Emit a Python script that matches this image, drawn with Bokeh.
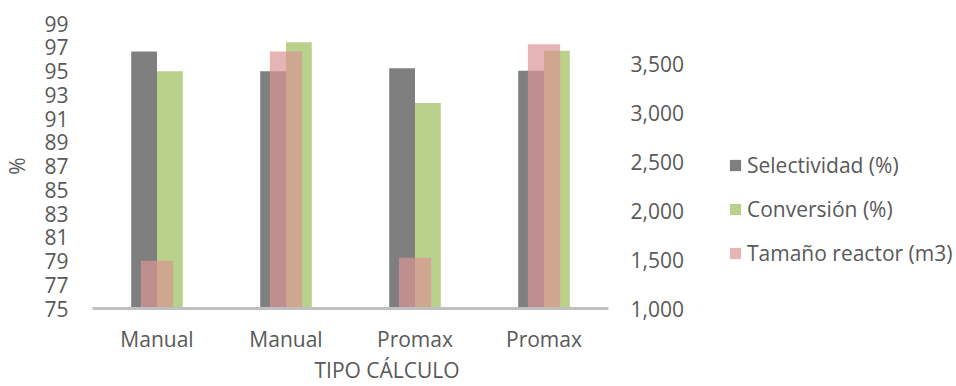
from bokeh.plotting import figure
from bokeh.layouts import row
from bokeh.models import (Range1d, LinearAxis, FixedTicker, NumeralTickFormatter,
                          Legend, LegendItem, Title, ColumnDataSource)
from bokeh.embed import file_html
from bokeh.resources import INLINE

categories = ["Manual", "Manual", "Promax", "Promax"]
selectividad = [96.65, 94.97, 95.24, 95.02]
conversion = [94.97, 97.43, 92.30, 96.71]
tamano_reactor = [1490, 3630, 1519, 3705]
left_ticks = [75, 77, 79, 81, 83, 85, 87, 89, 91, 93, 95, 97, 99]
right_ticks = [1000, 1500, 2000, 2500, 3000, 3500]
series_names = ["Selectividad (%)", "Conversión (%)", "Tamaño reactor (m3)"]

FONT = "Open Sans"
TXT = "#595959"
FS = "21px"
C_SEL, C_CONV, C_TAM = "#7F7F7F", "#B9D18B", "#D99694"
TAM_ALPHA = 0.7

xpos = list(range(1, len(categories) + 1))
src = ColumnDataSource(dict(
    x=xpos,
    xs=[v - 0.1 for v in xpos],
    xc=[v + 0.1 for v in xpos],
    sel=selectividad, conv=conversion, tam=tamano_reactor,
))

p = figure(width=700, height=386, output_backend="svg", toolbar_location=None,
           x_range=Range1d(0.5, 4.5), y_range=Range1d(75, 99),
           min_border_left=89, min_border_right=92, min_border_top=23,
           min_border_bottom=78)
p.extra_y_ranges = {"right": Range1d(1000, 3917)}
p.outline_line_color = None
p.xgrid.visible = False
p.ygrid.visible = False
p.background_fill_color = "white"

p.vbar(x="xs", width=0.2, bottom=75, top="sel", source=src,
       fill_color=C_SEL, line_color=None)
p.vbar(x="xc", width=0.2, bottom=75, top="conv", source=src,
       fill_color=C_CONV, line_color=None)
p.vbar(x="x", width=0.25, bottom=1000, top="tam", source=src,
       y_range_name="right", fill_color=C_TAM, fill_alpha=TAM_ALPHA,
       line_color=None)

# left axis
ya = p.yaxis[0]
ya.ticker = FixedTicker(ticks=left_ticks)
ya.axis_line_color = None
ya.major_tick_line_color = None
ya.minor_tick_line_color = None
ya.major_tick_out = 0
ya.major_label_standoff = 24
ya.major_label_text_font = FONT
ya.major_label_text_font_size = FS
ya.major_label_text_color = TXT
ya.axis_label = "%"
ya.axis_label_standoff = 10
ya.axis_label_text_font = FONT
ya.axis_label_text_font_size = FS
ya.axis_label_text_color = TXT
ya.axis_label_text_font_style = "normal"

# right axis
ra = LinearAxis(y_range_name="right", ticker=FixedTicker(ticks=right_ticks),
                formatter=NumeralTickFormatter(format="0,0"))
ra.axis_line_color = None
ra.major_tick_line_color = None
ra.minor_tick_line_color = None
ra.major_tick_out = 0
ra.major_label_standoff = 22
ra.major_label_text_font = FONT
ra.major_label_text_font_size = FS
ra.major_label_text_color = TXT
p.add_layout(ra, "right")

# bottom axis
xa = p.xaxis[0]
xa.ticker = FixedTicker(ticks=xpos)
xa.major_label_overrides = {i: c for i, c in zip(xpos, categories)}
xa.axis_line_color = "#BFBFBF"
xa.axis_line_width = 3
xa.major_tick_line_color = None
xa.minor_tick_line_color = None
xa.major_tick_out = 0
xa.major_label_standoff = 16
xa.major_label_text_font = FONT
xa.major_label_text_font_size = FS
xa.major_label_text_color = TXT

xt = Title(text="TIPO CÁLCULO", align="left", offset=222,
           vertical_align="top", standoff=0)
xt.text_font = FONT
xt.text_font_size = FS
xt.text_color = TXT
xt.text_font_style = "normal"
p.add_layout(xt, "below")

# legend figure (legend swatches only; its dummy glyphs lie outside its ranges)
q = figure(width=256, height=386, output_backend="svg", toolbar_location=None,
           x_range=Range1d(0, 1), y_range=Range1d(0, 1),
           x_axis_type=None, y_axis_type=None,
           min_border_left=0, min_border_right=0, min_border_top=0,
           min_border_bottom=0)
q.outline_line_color = None
q.xgrid.visible = False
q.ygrid.visible = False
e = ColumnDataSource(dict(x=[-10], top=[-10], bottom=[-11]))
l_sel = q.vbar(x="x", top="top", bottom="bottom", width=0.1, source=e,
               fill_color=C_SEL, line_color=None)
l_conv = q.vbar(x="x", top="top", bottom="bottom", width=0.1, source=e,
                fill_color=C_CONV, line_color=None)
l_tam = q.vbar(x="x", top="top", bottom="bottom", width=0.1, source=e,
               fill_color=C_TAM, fill_alpha=TAM_ALPHA, line_color=None)

legend = Legend(items=[
    LegendItem(label=series_names[0], renderers=[l_sel]),
    LegendItem(label=series_names[1], renderers=[l_conv]),
    LegendItem(label=series_names[2], renderers=[l_tam]),
], location=(28, 41))
legend.border_line_color = None
legend.background_fill_alpha = 0
legend.padding = 0
legend.margin = 0
legend.spacing = 16
legend.glyph_width = 14
legend.glyph_height = 14
legend.label_standoff = 5
legend.label_text_font = FONT
legend.label_text_font_size = FS
legend.label_text_color = TXT
q.add_layout(legend, "center")

layout = row(p, q, spacing=0)
open("out.html", "w").write(file_html(layout, INLINE))
